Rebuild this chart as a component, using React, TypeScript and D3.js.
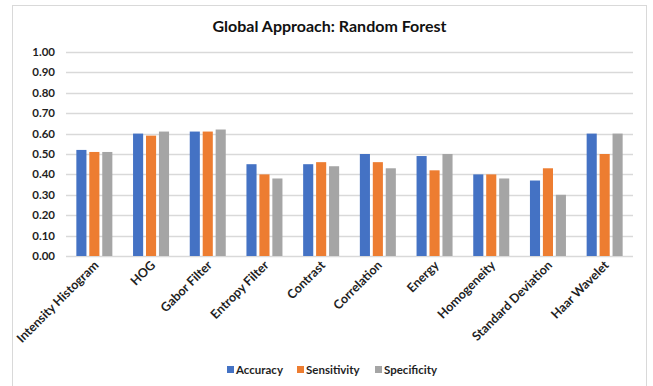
import React from "react";
import * as d3 from "d3";

const categories = [
  "Intensity Histogram",
  "HOG",
  "Gabor Filter",
  "Entropy Filter",
  "Contrast",
  "Correlation",
  "Energy",
  "Homogeneity",
  "Standard Deviation",
  "Haar Wavelet",
];
const seriesNames = ["Accuracy", "Sensitivity", "Specificity"];
const accuracy = [0.52, 0.6, 0.61, 0.45, 0.45, 0.5, 0.49, 0.4, 0.37, 0.6];
const sensitivity = [0.51, 0.59, 0.61, 0.4, 0.46, 0.46, 0.42, 0.4, 0.43, 0.5];
const specificity = [0.51, 0.61, 0.62, 0.38, 0.44, 0.43, 0.5, 0.38, 0.3, 0.6];
const yTicks = [0, 0.1, 0.2, 0.3, 0.4, 0.5, 0.6, 0.7, 0.8, 0.9, 1.0];
const colors = ["#4472C4", "#ED7D31", "#A5A5A5"];

const FONT = "Lato, 'Open Sans', sans-serif";

const App = () => {
  const svgRef = React.useRef<SVGSVGElement>(null);

  React.useEffect(() => {
    document.body.style.margin = "0";
    const svg = d3.select(svgRef.current);
    svg.selectAll("*").remove();

    const left = 66;
    const right = 633;
    const top = 52;
    const bottom = 256;

    // chart frame
    svg
      .append("rect")
      .attr("x", 12.5)
      .attr("y", 5.5)
      .attr("width", 634)
      .attr("height", 400)
      .attr("fill", "white")
      .attr("stroke", "#D9D9D9");

    svg
      .append("text")
      .attr("x", (left + right) / 2 - 20)
      .attr("y", 32)
      .attr("text-anchor", "middle")
      .attr("font-family", FONT)
      .attr("font-weight", "bold")
      .attr("font-size", 16)
      .attr("fill", "#111")
      .text("Global Approach: Random Forest");

    const x = d3.scaleBand().domain(categories).range([left, right]);
    const y = d3.scaleLinear().domain([0, 1]).range([bottom, top]);

    const inner = d3
      .scaleBand()
      .domain(seriesNames)
      .range([-18, 18])
      .paddingInner(0.22);

    // gridlines
    svg
      .append("g")
      .selectAll("line")
      .data(yTicks)
      .enter()
      .append("line")
      .attr("x1", left)
      .attr("x2", right)
      .attr("y1", (d) => Math.round(y(d)) + 0.5)
      .attr("y2", (d) => Math.round(y(d)) + 0.5)
      .attr("stroke", "#D9D9D9")
      .attr("stroke-width", 1.5);

    svg
      .append("g")
      .selectAll("text")
      .data(yTicks)
      .enter()
      .append("text")
      .attr("x", 55)
      .attr("y", (d) => y(d) + 4)
      .attr("text-anchor", "end")
      .attr("font-family", FONT)
      .attr("font-weight", "bold")
      .attr("font-size", 11.5)
      .attr("fill", "#1f1f1f")
      .text((d) => d.toFixed(2));

    const rows = [accuracy, sensitivity, specificity];
    const data = categories.flatMap((c, i) =>
      seriesNames.map((s, j) => ({ cat: c, series: s, value: rows[j][i], j }))
    );

    svg
      .append("g")
      .selectAll("rect")
      .data(data)
      .enter()
      .append("rect")
      .attr("x", (d) => x(d.cat)! + x.bandwidth() / 2 + inner(d.series)!)
      .attr("y", (d) => y(d.value))
      .attr("width", inner.bandwidth())
      .attr("height", (d) => y(0) - y(d.value))
      .attr("fill", (d) => colors[d.j]);

    // category labels
    svg
      .append("g")
      .selectAll("text")
      .data(categories)
      .enter()
      .append("text")
      .attr(
        "transform",
        (d) => `translate(${x(d)! + x.bandwidth() / 2 + 5}, 266) rotate(-45)`
      )
      .attr("text-anchor", "end")
      .attr("font-family", FONT)
      .attr("font-weight", "bold")
      .attr("font-size", 12.5)
      .attr("fill", "#1f1f1f")
      .text((d) => d);

    // legend
    const legendX = [227, 297, 375];
    const legend = svg
      .append("g")
      .selectAll("g")
      .data(seriesNames)
      .enter()
      .append("g")
      .attr("transform", (d, i) => `translate(${legendX[i]}, 370)`);

    legend
      .append("rect")
      .attr("x", 0)
      .attr("y", -4)
      .attr("width", 7)
      .attr("height", 7)
      .attr("fill", (d, i) => colors[i]);

    legend
      .append("text")
      .attr("x", 9)
      .attr("y", 3.5)
      .attr("font-family", FONT)
      .attr("font-weight", "bold")
      .attr("font-size", 11.5)
      .attr("fill", "#1f1f1f")
      .text((d) => d);
  }, []);

  return <svg ref={svgRef} width="653" height="386"></svg>;
};

export default App;
